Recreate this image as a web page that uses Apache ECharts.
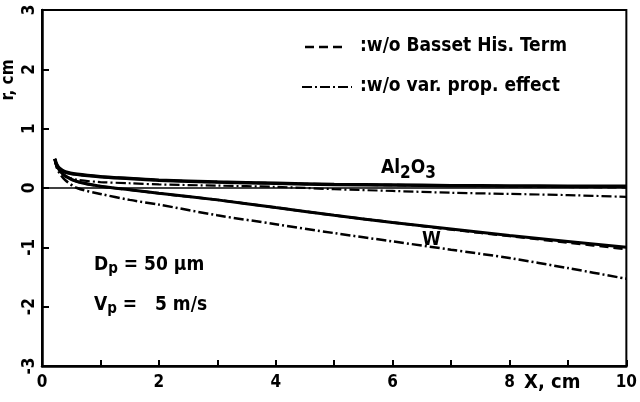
<!DOCTYPE html>
<html>
<head>
<meta charset="utf-8">
<script src="https://cdn.jsdelivr.net/npm/echarts@6/dist/echarts.min.js"></script>
<style>html,body{margin:0;padding:0;background:#fff;}#c{width:640px;height:402px;}</style>
</head>
<body>
<div id="c"></div>
<script>
// ---- data ----
const xTicks = [0, 2, 4, 6, 8, 10];
const yTicks = [-3, -2, -1, 0, 1, 2, 3];
const xs = [0.22, 0.25, 0.3, 0.4, 0.6, 1, 1.5, 2, 3, 4, 5, 6, 7, 8, 9, 10];
const al2o3Solid   = [0.49, 0.40, 0.33, 0.27, 0.23, 0.19, 0.16, 0.13, 0.10, 0.08, 0.06, 0.05, 0.04, 0.035, 0.03, 0.03];
const al2o3Basset  = [0.49, 0.40, 0.33, 0.27, 0.23, 0.19, 0.16, 0.13, 0.10, 0.08, 0.06, 0.05, 0.04, 0.03, 0.02, 0.01];
const al2o3VarProp = [0.49, 0.36, 0.28, 0.20, 0.14, 0.10, 0.08, 0.06, 0.04, 0.02, -0.02, -0.05, -0.08, -0.10, -0.12, -0.15];
const wSolid   = [0.49, 0.38, 0.30, 0.20, 0.11, 0.03, -0.03, -0.09, -0.20, -0.33, -0.46, -0.58, -0.69, -0.80, -0.90, -1.00];
const wBasset  = [0.49, 0.38, 0.30, 0.20, 0.11, 0.03, -0.03, -0.09, -0.20, -0.33, -0.46, -0.58, -0.70, -0.81, -0.92, -1.03];
const wVarProp = [0.49, 0.35, 0.25, 0.13, 0.00, -0.10, -0.20, -0.28, -0.46, -0.61, -0.76, -0.90, -1.04, -1.18, -1.35, -1.53];
const zeroLine = [[0, 0], [10, 0]];
const legendBasset = ':w/o Basset His. Term';
const legendVarProp = ':w/o var. prop. effect';

const FONT = '"Liberation Sans Narrow", "DejaVu Sans Condensed", sans-serif';
const pairs = ys => xs.map((x, i) => [x, ys[i]]);
const DASH = [9, 5];
const DASHDOT = [10, 3, 2, 3];

function curve(name, ys, dash, w) {
  return {
    name: name, type: 'line', data: pairs(ys), smooth: 0.3, symbol: 'none',
    silent: true, z: 3,
    lineStyle: { color: '#000', width: w, type: dash || 'solid' }
  };
}

const chart = echarts.init(document.getElementById('c'));
chart.setOption({
  animation: false,
  backgroundColor: '#fff',
  grid: { left: 42, right: 10, top: 10, bottom: 36, show: true, borderColor: '#000', borderWidth: 2 },
  xAxis: {
    type: 'value', min: 0, max: 10, interval: 1,
    axisLine: { show: true, onZero: false, lineStyle: { color: '#000', width: 2.5 } },
    axisTick: { show: true, inside: true, length: 6, lineStyle: { color: '#000', width: 2 } },
    splitLine: { show: false },
    axisLabel: {
      color: '#000', fontFamily: FONT, fontWeight: 'bold', fontSize: 17, margin: 8,
      formatter: v => xTicks.indexOf(v) >= 0 ? String(v) : ''
    }
  },
  yAxis: {
    type: 'value', min: -3, max: 3, interval: 1,
    axisLine: { show: true, onZero: false, lineStyle: { color: '#000', width: 2.5 } },
    axisTick: { show: true, inside: true, length: 7, lineStyle: { color: '#000', width: 2 } },
    splitLine: { show: false },
    axisLabel: {
      color: '#000', fontFamily: FONT, fontWeight: 'bold', fontSize: 17, margin: 4, rotate: 90,
      formatter: v => yTicks.indexOf(v) >= 0 ? String(v) : ''
    }
  },
  series: [
    { type: 'line', data: zeroLine, symbol: 'none', silent: true, z: 2, lineStyle: { color: '#000', width: 1.5 } },
    curve('Al2O3', al2o3Solid, null, 3.5),
    curve(legendBasset, al2o3Basset, DASH, 2.5),
    curve(legendVarProp, al2o3VarProp, DASHDOT, 2.2),
    curve('W', wSolid, null, 3),
    curve(legendBasset, wBasset, DASH, 2.5),
    curve(legendVarProp, wVarProp, DASHDOT, 2.5)
  ],
  graphic: [
    { type: 'line', shape: { x1: 305, y1: 47, x2: 347, y2: 47 }, style: { stroke: '#000', lineWidth: 2.5, lineDash: DASH } },
    { type: 'text', left: 360, top: 37, style: { text: legendBasset, fill: '#000', font: 'bold 19px ' + FONT } },
    { type: 'line', shape: { x1: 302, y1: 87, x2: 352, y2: 87 }, style: { stroke: '#000', lineWidth: 2.2, lineDash: DASHDOT } },
    { type: 'text', left: 360, top: 77, style: { text: legendVarProp, fill: '#000', font: 'bold 19px ' + FONT } },
    { type: 'text', x: 9, y: 80, rotation: Math.PI / 2,
      style: { text: 'r, cm', fill: '#000', font: 'bold 17px ' + FONT, textAlign: 'center', textVerticalAlign: 'middle' } },
    { type: 'text', left: 524, top: 373, style: { text: 'X, cm', fill: '#000', font: 'bold 20px ' + FONT } },
    { type: 'text', left: 381, top: 159,
      style: { rich: { a: { font: 'bold 19px ' + FONT, fill: '#000' }, s: { font: 'bold 17px ' + FONT, fill: '#000', padding: [10, 0, 0, 0] } },
               text: '{a|Al}{s|2}{a|O}{s|3}' } },
    { type: 'text', left: 422, top: 231, style: { text: 'W', fill: '#000', font: 'bold 19px ' + FONT } },
    { type: 'text', left: 94, top: 256,
      style: { rich: { a: { font: 'bold 19px ' + FONT, fill: '#000' }, s: { font: 'bold 15px ' + FONT, fill: '#000', padding: [8, 0, 0, 0] } },
               text: '{a|D}{s|p}{a| = 50 μm}' } },
    { type: 'text', left: 94, top: 296,
      style: { rich: { a: { font: 'bold 19px ' + FONT, fill: '#000' }, s: { font: 'bold 15px ' + FONT, fill: '#000', padding: [8, 0, 0, 0] } },
               text: '{a|V}{s|p}{a| =   5 m/s}' } }
  ]
});
</script>
</body>
</html>
